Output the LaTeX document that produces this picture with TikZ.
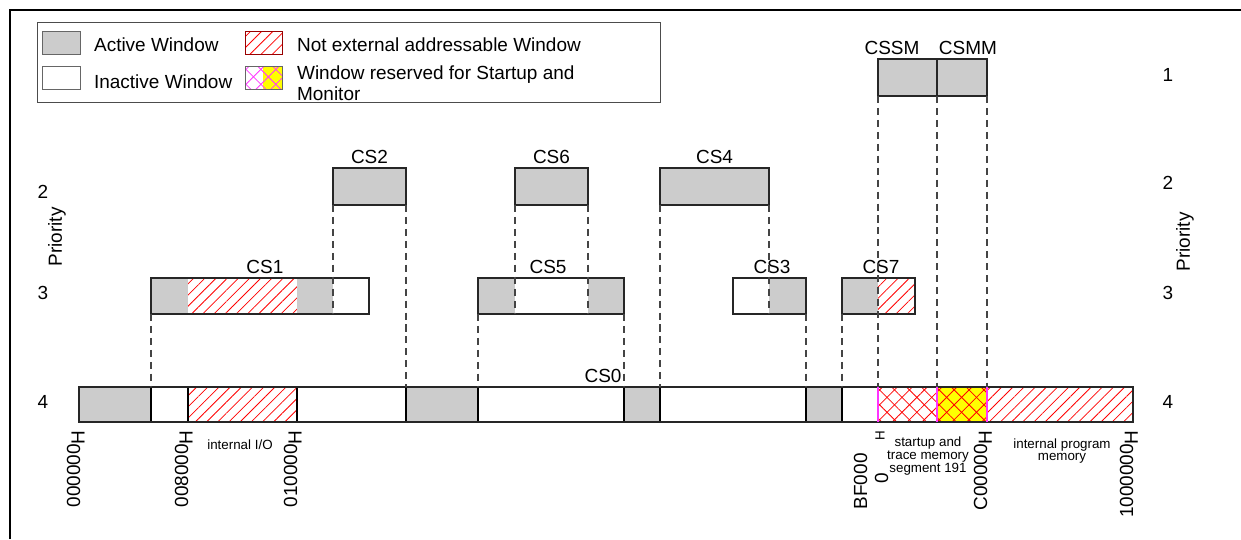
\documentclass[tikz,border=0pt]{standalone}
\usepackage{fontspec}
\setmainfont{Liberation Sans}
\usetikzlibrary{fit, positioning, patterns.meta}
\definecolor{winfill}{HTML}{CCCCCC}
\definecolor{guidegray}{HTML}{444444}
\definecolor{startup}{HTML}{FF33FF}
\definecolor{monitor}{HTML}{FFFF00}

\begin{document}
\begin{tikzpicture}[
    x=0.02cm, y=-0.02cm,
    every node/.style={font=\fontsize{10.8}{12}\selectfont, inner sep=1pt},
    winframe/.style={draw=black!85, line width=0.7pt, inner sep=0pt, outer sep=0pt},
    active/.style={fill=winfill},
    noext/.style={pattern={Lines[angle=45, distance=4.5pt, line width=0.45pt]}, pattern color=red},
    crossed/.style={
        pattern={Lines[angle=45, distance=6pt, line width=0.45pt]}, pattern color=#1,
        postaction={pattern={Lines[angle=-45, distance=6pt, line width=0.45pt]}, pattern color=#1},
    },
    guide/.style={guidegray, line width=0.6pt, dash pattern=on 4pt off 2.8pt},
    small/.style={font=\fontsize{7.6}{7.2}\selectfont, align=center},
    addr/.style={rotate=90, anchor=base east, inner sep=0pt},
]
\useasboundingbox (0,0) rectangle (1241,539);

% page frame (top and left rule)
\draw[line width=1.1pt] (10,539) -- (10,10) -- (1241,10);

% =============================================
% LEGEND
% =============================================
\node[winframe, draw=black!70, line width=0.5pt, fit={(37,22) (660,102)}] (legend) {};
\draw[active, draw=black!60, line width=0.5pt] (42,31) rectangle (80,54);
\draw[draw=black!60, line width=0.5pt] (42,66) rectangle (80,89);
\draw[noext, draw=red!60!black, line width=0.5pt] (245,31) rectangle (282,54);
\fill[crossed=startup] (245,66) rectangle (263,89);
\fill[monitor] (263,66) rectangle (282,89);
\fill[crossed=startup] (263,66) rectangle (282,89);
\draw[draw=black!60, line width=0.5pt] (245,66) rectangle (282,89);
\node[anchor=west] (actlbl) at (92,45) {Active Window};
\node[anchor=west] (inactlbl) at (92,82) {Inactive Window};
\node[anchor=west] (noextlbl) at (295,45) {Not external addressable Window};
\node[anchor=west, align=left] (reslbl) at (295,83) {Window reserved for Startup and\\Monitor};

% =============================================
% PRIORITY 1 - CSSM / CSMM
% =============================================
\node[winframe, active, fit={(878,59) (937,96)}] (cssm) {};
\node[winframe, active, fit={(937,59) (987,96)}] (csmm) {};
\node[above=1pt of cssm, xshift=-8.8pt] (cssmlbl) {CSSM};
\node[above=1pt of csmm, xshift=3.4pt] (csmmlbl) {CSMM};

% =============================================
% PRIORITY 2 - CS2, CS6, CS4
% =============================================
\node[winframe, active, fit={(333,168) (406,205)}] (cs2) {};
\node[winframe, active, fit={(515,168) (588,205)}] (cs6) {};
\node[winframe, active, fit={(660,168) (769,205)}] (cs4) {};
\node[above=1pt of cs2] (cs2lbl) {CS2};
\node[above=1pt of cs6] (cs6lbl) {CS6};
\node[above=1pt of cs4] (cs4lbl) {CS4};

% =============================================
% PRIORITY 3 - CS1, CS5, CS3, CS7
% =============================================
% CS1
\fill[active] (151,278) rectangle (188,314);
\fill[noext] (188,278) rectangle (297,314);
\fill[active] (297,278) rectangle (333,314);
\node[winframe, fit={(151,278) (369,314)}] (cs1) {};
% CS5
\fill[active] (478,278) rectangle (515,314);
\fill[active] (588,278) rectangle (624,314);
\node[winframe, fit={(478,278) (624,314)}] (cs5) {};
% CS3
\fill[active] (769,278) rectangle (806,314);
\node[winframe, fit={(733,278) (806,314)}] (cs3) {};
% CS7
\fill[active] (842,278) rectangle (878,314);
\fill[noext] (878,278) rectangle (915,314);
\node[winframe, fit={(842,278) (915,314)}] (cs7) {};
\node[above=1pt of cs1, xshift=2.8pt] (cs1lbl) {CS1};
\node[above=1pt of cs5, xshift=-1.7pt] (cs5lbl) {CS5};
\node[above=1pt of cs3, xshift=1.4pt] (cs3lbl) {CS3};
\node[above=1pt of cs7, xshift=1.4pt] (cs7lbl) {CS7};

% =============================================
% PRIORITY 4 - CS0 (whole address space)
% =============================================
\draw[active, line width=0.7pt] (79,387) rectangle (151,422);
\draw[noext, line width=0.7pt] (188,387) rectangle (297,422);
\draw[active, line width=0.7pt] (406,387) rectangle (478,422);
\draw[active, line width=0.7pt] (624,387) rectangle (660,422);
\draw[active, line width=0.7pt] (806,387) rectangle (842,422);
\fill[crossed=red] (878,387) rectangle (937,422);
\fill[monitor] (937,387) rectangle (987,422);
\fill[crossed=red] (937,387) rectangle (987,422);
\draw[noext, line width=0.7pt] (987,387) rectangle (1133,422);
\node[winframe, fit={(79,387) (1133,422)}] (cs0) {};
\draw[startup, line width=0.7pt] (878,387) -- (878,422);
\draw[startup, line width=0.7pt] (937,387) -- (937,422);
\draw[startup, line width=0.7pt] (987,387) -- (987,422);
\node[above=1pt of cs0, xshift=-1.7pt] (cs0lbl) {CS0};

% Priority axis labels
\node (prl2) at (43,192) {2};
\node (prl3) at (43,293) {3};
\node (prl4) at (43,402) {4};
\node[rotate=90] (prlaxis) at (57,237) {Priority};
\node (prr1) at (1168,75) {1};
\node (prr2) at (1168,183) {2};
\node (prr3) at (1168,293) {3};
\node (prr4) at (1168,402) {4};
\node[rotate=90] (prraxis) at (1185,242) {Priority};

% Addresses
\node[addr] (a000000) at (80,430) {000000\raisebox{-0.25em}{H}};
\node[addr] (a008000) at (188,430) {008000\raisebox{-0.25em}{H}};
\node[addr] (a010000) at (297,430) {010000\raisebox{-0.25em}{H}};
\node[addr] (abf000) at (867,453) {BF000};
\node[addr] (abfzero) at (888,473) {0};
\node[rotate=90, font=\fontsize{7.6}{8}\selectfont, inner sep=0pt] (abfh) at (880,436) {H};
\node[addr] (ac00000) at (987,430) {C00000\raisebox{-0.25em}{H}};
\node[addr] (a1000000) at (1133,430) {1000000\raisebox{-0.25em}{H}};

% Region notes
\node[small] (iolbl) at (240,445) {internal I/O};
\node[small] (sulbl) at (928,456) {startup and\\trace memory\\segment 191};
\node[small] (pmlbl) at (1062,451) {internal program\\memory};

% =============================================
% Dashed projections between priority levels
% =============================================
\draw[guide] (cs1.south west) -- (cs1.south west |- cs0.north);
\draw[guide] (cs2.south west) -- (cs2.south west |- cs1.south);
\draw[guide] (cs2.south east) -- (cs2.south east |- cs0.north);
\draw[guide] (cs6.south west) -- (cs6.south west |- cs5.south);
\draw[guide] (cs6.south east) -- (cs6.south east |- cs5.south);
\draw[guide] (cs5.south west) -- (cs5.south west |- cs0.north);
\draw[guide] (cs5.south east) -- (cs5.south east |- cs0.north);
\draw[guide] (cs4.south west) -- (cs4.south west |- cs0.north);
\draw[guide] (cs4.south east) -- (cs4.south east |- cs3.south);
\draw[guide] (cs3.south east) -- (cs3.south east |- cs0.north);
\draw[guide] (cs7.south west) -- (cs7.south west |- cs0.north);
\draw[guide] (cssm.south west) -- (cssm.south west |- cs0.north);
\draw[guide] (cssm.south east) -- (cssm.south east |- cs0.north);
\draw[guide] (csmm.south east) -- (csmm.south east |- cs0.north);

\end{tikzpicture}
\end{document}
